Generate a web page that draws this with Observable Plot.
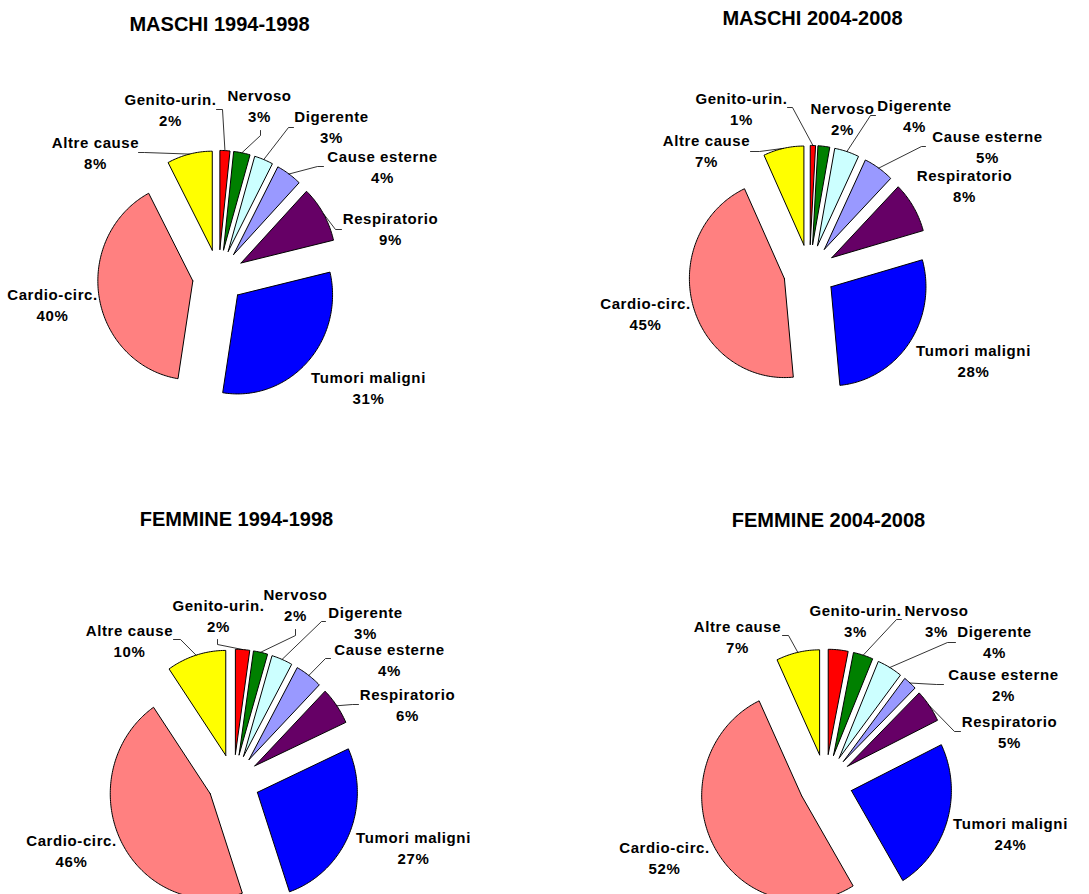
<!DOCTYPE html>
<html><head><meta charset="utf-8">
<script src="https://cdn.jsdelivr.net/npm/d3@7"></script>
<script src="https://cdn.jsdelivr.net/npm/@observablehq/plot@0.6"></script>
<style>
html,body{margin:0;padding:0;background:#fff;overflow:hidden;}
</style>
</head><body><div id="chart"></div>
<script>
// ---- data ----
const categories = ["Genito-urin.", "Nervoso", "Digerente", "Cause esterne", "Respiratorio", "Tumori maligni", "Cardio-circ.", "Altre cause"];
const colors = ["#FF0000", "#008000", "#CCFFFF", "#9999FF", "#660066", "#0000FF", "#FF8080", "#FFFF00"];
const titles = ["MASCHI 1994-1998", "MASCHI 2004-2008", "FEMMINE 1994-1998", "FEMMINE 2004-2008"];
const maschi1994 = [1.7, 2.8, 3.2, 4.4, 9.2, 31.2, 39.8, 7.7];
const maschi2004 = [0.9, 2.0, 4.2, 5.2, 8.3, 27.9, 44.6, 6.9];
const femmine1994 = [2.3, 2.3, 3.4, 4.4, 5.8, 26.6, 45.6, 9.6];
const femmine2004 = [3.2, 3.2, 4.1, 2.2, 5.1, 23.6, 51.6, 7.0];
const series = [maschi1994, maschi2004, femmine1994, femmine2004];

// ---- layout ----
const W = 1089, H = 894;
const layout = [
  {cx: 218, cy: 276, rx: 95, ry: 99, explode: 26, tx: 219, ty: 24},
  {cx: 809, cy: 271, rx: 95, ry: 99, explode: 26, tx: 812, ty: 18},
  {cx: 233, cy: 781, rx: 100, ry: 105, explode: 26, tx: 236, ty: 519},
  {cx: 825, cy: 782, rx: 100, ry: 105, explode: 27, tx: 828, ty: 520}
];
const labelOffsets = [
  [[-48,-168],[41,-172],[113,-151],[164,-111],[172,-49],[150,110],[-166,27],[-123,-125]],
  [[-68,-164],[33,-154],[105,-157],[178,-126],[155,-87],[164,88],[-164,41],[-103,-122]],
  [[-15,-167],[62,-178],[132,-160],[156,-123],[174,-78],[180,65],[-162,68],[-104,-142]],
  [[30,-163],[111,-163],[169,-142],[178,-99],[184,-52],[185,50],[-161,74],[-88,-147]]
];
// [category index, start dx, start dy, elbow dx, elbow dy] relative to pie centre
const leaderLayout = [
  [[0,-2,-167,4,-167],[1,42,-146,42,-141],[2,75,-149,70,-149],[3,105,-110,99,-110],[4,123,-47,117,-47],[7,-80,-124,-74,-124]],
  [[0,-22,-164,-17,-164],[2,66,-156,61,-156],[3,116,-125,112,-125],[7,-59,-120,-50,-120]],
  [[0,-16,-142,-16,-137],[1,62,-152,62,-146],[2,92,-160,88,-160],[3,97,-123,92,-123],[4,125,-77,119,-77],[7,-60,-142,-53,-142]],
  [[1,76,-163,71,-163],[2,130,-140,122,-140],[3,118,-98,111,-98],[4,135,-51,129,-51],[7,-43,-147,-37,-147]]
];

// ---- build geometry from data ----
const pieGen = d3.pie().sort(null).value(d => d);
const slicePts = [], leaderPts = [], labelRows = [], titleRows = [];
series.forEach((vals, p) => {
  const L = layout[p];
  const total = d3.sum(vals);
  const arcs = pieGen(vals);
  const mids = [];
  arcs.forEach((a, i) => {
    const mid = (a.startAngle + a.endAngle) / 2;
    const tx = L.cx + L.explode * Math.sin(mid);
    const ty = L.cy - L.explode * Math.cos(mid) * (L.ry / L.rx);
    const key = p + "-" + i;
    const n = Math.max(2, Math.ceil((a.endAngle - a.startAngle) / (Math.PI / 180)));
    slicePts.push({key, cat: categories[i], x: tx, y: ty});
    for (let k = 0; k <= n; k++) {
      const t = a.startAngle + (a.endAngle - a.startAngle) * k / n;
      slicePts.push({key, cat: categories[i], x: tx + L.rx * Math.sin(t), y: ty - L.ry * Math.cos(t)});
    }
    slicePts.push({key, cat: categories[i], x: tx, y: ty});
    mids.push([tx + L.rx * Math.sin(mid), ty - L.ry * Math.cos(mid)]);
    const off = labelOffsets[p][i];
    labelRows.push({x: L.cx + off[0], y: L.cy + off[1], text: categories[i] + "\n" + Math.round(vals[i] / total * 100) + "%"});
  });
  leaderLayout[p].forEach(([i, sx, sy, ex, ey]) => {
    const key = "L" + p + "-" + i;
    leaderPts.push({key, x: L.cx + sx, y: L.cy + sy});
    leaderPts.push({key, x: L.cx + ex, y: L.cy + ey});
    leaderPts.push({key, x: mids[i][0], y: mids[i][1]});
  });
  titleRows.push({x: L.tx, y: L.ty, text: titles[p]});
});

const chart = Plot.plot({
  width: W, height: H, margin: 0,
  x: {domain: [0, W], range: [0, W], axis: null},
  y: {domain: [0, H], range: [0, H], axis: null},
  color: {domain: categories, range: colors},
  style: {fontFamily: "Arial, 'Liberation Sans', sans-serif", background: "#fff"},
  marks: [
    Plot.line(slicePts, {x: "x", y: "y", z: "key", fill: "cat", stroke: "black", strokeWidth: 1, strokeLinejoin: "miter"}),
    Plot.line(leaderPts, {x: "x", y: "y", z: "key", stroke: "black", strokeWidth: 0.8}),
    Plot.text(labelRows, {x: "x", y: "y", text: "text", fontSize: 15, fontWeight: "bold", lineHeight: 1.4, fill: "black"}),
    Plot.text(titleRows, {x: "x", y: "y", text: "text", fontSize: 20, fontWeight: "bold", fill: "black"})
  ]
});
// slight letter spacing on the two-line slice labels (as in the original)
d3.select(chart).selectAll("text")
  .filter(function() { return this.querySelector("tspan") !== null; })
  .attr("letter-spacing", "0.6");
document.getElementById("chart").appendChild(chart);
</script>
</body></html>
